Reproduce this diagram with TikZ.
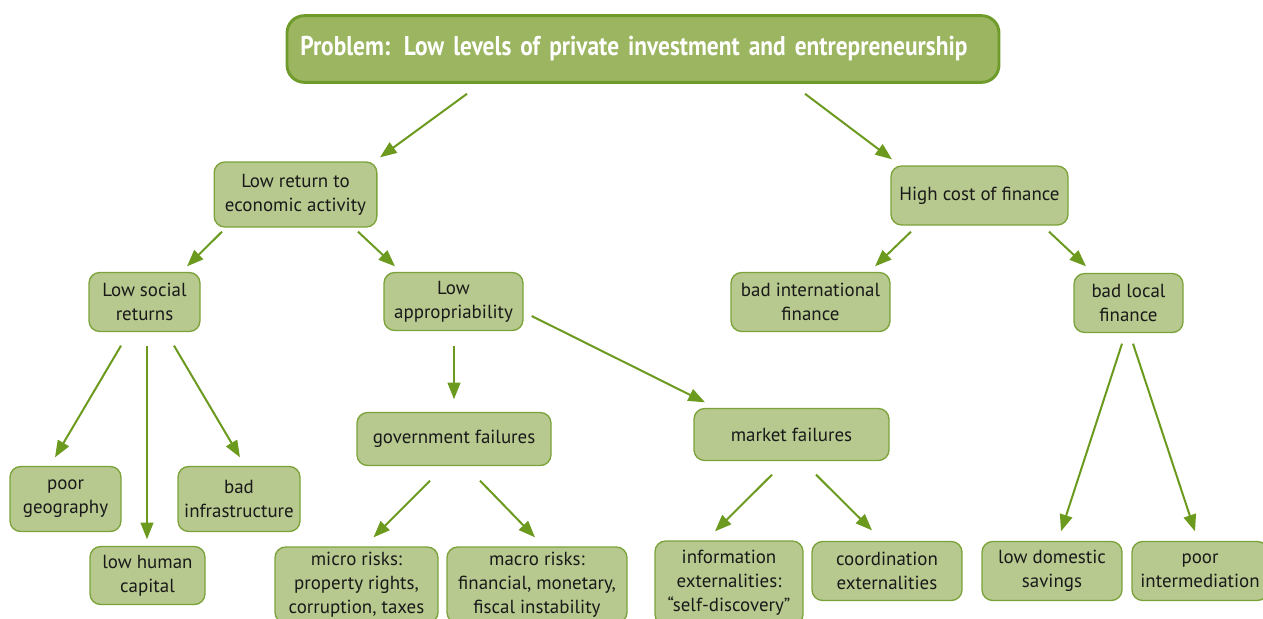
\documentclass[tikz,border=0pt]{standalone}
\usepackage{fontspec}
\setmainfont{PT Sans}
\newfontfamily\titlefont{PT Sans}[FakeStretch=0.86]
\usepackage{tikz}
\usetikzlibrary{shapes.geometric, arrows.meta}

\definecolor{leaf}{RGB}{183,201,143}
\definecolor{leafedge}{RGB}{124,163,58}
\definecolor{topfill}{RGB}{155,181,97}
\definecolor{topedge}{RGB}{110,155,42}
\definecolor{stem}{RGB}{107,154,31}
\definecolor{ink}{RGB}{25,25,25}

\tikzstyle{problem} = [rectangle, rounded corners=13pt, minimum width=534pt, minimum height=50pt, inner xsep=10pt, text width=514pt, align=left, draw=topedge, line width=2.2pt, fill=topfill, text=white, font=\titlefont\fontsize{20.4}{24}\selectfont\bfseries]
\tikzstyle{cause} = [rectangle, rounded corners=8pt, inner sep=3pt, align=center, draw=leafedge, line width=1pt, fill=leaf, text=ink, font=\fontsize{14.2}{18}\selectfont]
\tikzstyle{arrow} = [line width=1.5pt, draw=stem, -{Triangle[length=12.5pt, width=9.5pt]}]

\begin{document}
\begin{tikzpicture}[x=0.75pt, y=-0.75pt]
\useasboundingbox (0,0) rectangle (1263,618);

\node (prob) [problem] at (643,49) {Problem: Low levels of private investment and entrepreneurship};

% second level
\node (ret) [cause, minimum width=122pt, minimum height=48.75pt] at (295.5,194.5) {Low return to\\economic activity};
\node (fin) [cause, minimum width=132.75pt, minimum height=44.25pt] at (979.5,195.5) {High cost of finance};

% third level
\node (soc) [cause, minimum width=83.25pt, minimum height=44.25pt] at (144.5,302) {Low social\\returns};
\node (app) [cause, minimum width=104.25pt, minimum height=43.5pt] at (453.5,301.5) {Low\\appropriability};
\node (intl) [cause, minimum width=119.25pt, minimum height=44.25pt] at (810.5,302) {bad international\\finance};
\node (loc) [cause, minimum width=81.75pt, minimum height=44.25pt] at (1128.5,303) {bad local\\finance};

\node (gov) [cause, minimum width=145.5pt, minimum height=39.75pt] at (454,439) {government failures};
\node (mkt) [cause, minimum width=146.25pt, minimum height=39pt] at (791.5,434.5) {market failures};

% leaves
\node (geo) [cause, minimum width=83.25pt, minimum height=48.75pt] at (65.5,499) {poor\\geography};
\node (infra) [cause, minimum width=91.5pt, minimum height=48.75pt] at (239,499) {bad\\infrastructure};
\node (hum) [cause, minimum width=86.25pt, minimum height=43.5pt] at (147.5,575.5) {low human\\capital};
\node (micro) [cause, minimum width=122.25pt, minimum height=57pt] at (356.5,585) {micro risks:\\property rights,\\corruption, taxes};
\node (macro) [cause, minimum width=135pt, minimum height=57pt] at (537,585) {macro risks:\\financial, monetary,\\fiscal instability};
\node (info) [cause, minimum width=111pt, minimum height=63pt] at (729,583) {information\\externalities:\\“self-discovery”};
\node (coord) [cause, minimum width=112.5pt, minimum height=44.25pt] at (887,571) {coordination\\externalities};
\node (sav) [cause, minimum width=105pt, minimum height=44.25pt] at (1052,571) {low domestic\\savings};
\node (int) [cause, minimum width=102pt, minimum height=44.25pt] at (1200,571) {poor\\intermediation};

\draw [arrow] ([shift={(-176,10)}]prob.south) -- ([shift={(84.5,-4)}]ret.north);
\draw [arrow] ([shift={(162,10)}]prob.south) -- ([shift={(-87.5,-6)}]fin.north);
\draw [arrow] ([shift={(-73.5,4)}]ret.south) -- ([shift={(42.5,-5.5)}]soc.north);
\draw [arrow] ([shift={(62.5,4)}]ret.south) -- ([shift={(-58.5,-5.5)}]app.north);
\draw [arrow] ([shift={(-68.5,6)}]fin.south) -- ([shift={(64.5,-5.5)}]intl.north);
\draw [arrow] ([shift={(69.5,6)}]fin.south) -- ([shift={(-42.5,-6.5)}]loc.north);
\draw [arrow] ([shift={(-23.5,13.5)}]soc.south) -- ([shift={(-10.5,-8.5)}]geo.north);
\draw [arrow] ([shift={(2.5,13.5)}]soc.south) -- ([shift={(-0.5,-6.5)}]hum.north);
\draw [arrow] ([shift={(29.5,13.5)}]soc.south) -- ([shift={(1,-8.5)}]infra.north);
\draw [arrow] ([shift={(0.5,14.5)}]app.south) -- ([shift={(0,-12.5)}]gov.north);
\draw [arrow] ([shift={(8,14.5)}]app.east) -- ([shift={(-86.5,-5.5)}]mkt.north);
\draw [arrow] ([shift={(-24,14.5)}]gov.south) -- ([shift={(17,-9)}]micro.north);
\draw [arrow] ([shift={(26,14.5)}]gov.south) -- ([shift={(-2,-9)}]macro.north);
\draw [arrow] ([shift={(-19.5,13.5)}]mkt.south) -- ([shift={(-14,-9)}]info.north);
\draw [arrow] ([shift={(24.5,13.5)}]mkt.south) -- ([shift={(-15,-10.5)}]coord.north);
\draw [arrow] ([shift={(-6.5,10.5)}]loc.south) -- ([shift={(9,-9.5)}]sav.north);
\draw [arrow] ([shift={(4.5,10.5)}]loc.south) -- ([shift={(-5,-9.5)}]int.north);

\end{tikzpicture}
\end{document}
